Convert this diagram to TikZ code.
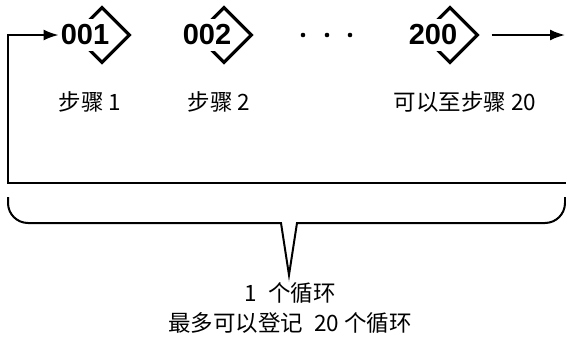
\documentclass[tikz,border=0pt]{standalone}
\usepackage{fontspec}
\setmainfont{Liberation Sans}
\newfontfamily\cjk{Noto Sans CJK SC}
\usetikzlibrary{arrows.meta,shapes.geometric}
\tikzset{
  stepdia/.style = {diamond, draw, line width=3.2pt, minimum width=56pt,
                    minimum height=56pt, inner sep=0pt},
  stepnum/.style = {font=\fontsize{29}{30}\selectfont\bfseries, fill=white,
                    inner xsep=2pt, inner ysep=6pt},
  steplab/.style = {font=\cjk\fontsize{22.5}{24}\selectfont},
  flow/.style    = {line width=2pt, -{Latex[length=15pt,width=11pt]}},
  brace/.style   = {line width=2pt},
}

\begin{document}
\begin{tikzpicture}[x=1pt, y=1pt]
\useasboundingbox (0,0) rectangle (566,-343);

% ── Steps: number, diamond behind it, caption below ──────────
\def\Y{-35}
\foreach \i/\x/\num/\lx/\lab in {%
    1/85/001/90/{步骤 1}, 2/207/002/219/{步骤 2},
    3/433/200/465/{可以至步骤 20}}{
  \node[stepdia] (dia\i) at (\x+17,\Y) {};
  \node[stepnum] (num\i) at (\x,\Y) {\num};
  \node[steplab] (lab\i) at (\lx,\Y-67) {\lab};
}
% Gap between step 2 and step 200
\foreach \xx in {303,327,350}{
  \fill (\xx,\Y) circle (2.3);
}

% ── Loop back and exit ───────────────────────────────────────
\coordinate (loopR) at (566,-183);
\coordinate (loopL) at (8,-183);
\coordinate (outR)  at (565,\Y);
\draw[flow] (loopR) -- (loopL) |- (num1.west);
\draw[flow] ([xshift=12pt]dia3.east) -- (outR);

% ── Brace under the loop ─────────────────────────────────────
\draw[brace] (8,-197) -- (8,-203) arc[start angle=180, end angle=270, radius=20]
  -- (281,-223) -- (289,-275) -- (297,-223)
  -- (545,-223) arc[start angle=270, end angle=360, radius=20] -- (565,-197);
\node[steplab] (cycle) at (290,-293) {1\enspace 个循环};
\node[steplab] (maxcycle) at (290,-323) {最多可以登记\enspace 20 个循环};

\end{tikzpicture}
\end{document}
